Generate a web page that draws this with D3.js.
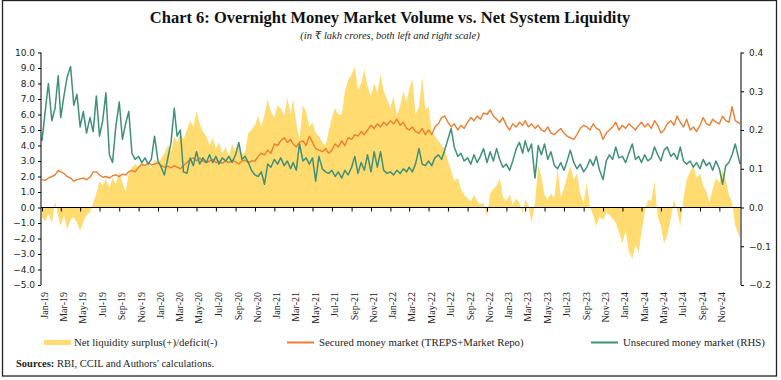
<!DOCTYPE html>
<html><head><meta charset="utf-8">
<script src="https://cdn.jsdelivr.net/npm/d3@7"></script>
<style>body{margin:0;background:#fff}svg{display:block}</style>
</head><body><svg id="c" width="781" height="380"></svg>
<script>
const tickLabels = ["Jan-19","Mar-19","May-19","Jul-19","Sep-19","Nov-19","Jan-20","Mar-20","May-20","Jul-20","Sep-20","Nov-20",
"Jan-21","Mar-21","May-21","Jul-21","Sep-21","Nov-21","Jan-22","Mar-22","May-22","Jul-22","Sep-22","Nov-22",
"Jan-23","Mar-23","May-23","Jul-23","Sep-23","Nov-23","Jan-24","Mar-24","May-24","Jul-24","Sep-24","Nov-24"];
const leftTicks = [10,9,8,7,6,5,4,3,2,1,0,-1,-2,-3,-4,-5];
const rightTicks = [0.4,0.3,0.2,0.1,0.0,-0.1,-0.2];

// Net liquidity surplus(+)/deficit(-), 3 readings per month (1st, 11th, 21st) + early Jan-25
const liquidity = [
-0.6,-0.9,-0.4, -1.0,0.4,-0.6, -1.2,-0.5,-1.4, -0.8,-0.6,-1.0, -1.5,-0.9,-0.5, -0.3,0.3,0.9,
1.7,1.4,1.8, 1.3,1.9,1.5, 2.3,1.6,1.0, 2.2,2.6,2.8, 2.5,3.0,2.6, 2.9,2.5,3.1,
2.8,3.2,3.5, 4.0,3.6,4.6, 4.2,4.8,4.4, 5.0,5.6,5.2, 6.2,5.4,4.9, 4.6,4.0,4.5,
3.8,4.2,3.5, 3.9,3.3,4.1, 3.6,4.2,3.4, 3.6,4.8,5.0, 5.3,5.9,5.2, 6.0,7.0,6.2,
5.8,6.6,6.4, 5.9,7.1,6.0, 7.0,5.4,4.4, 6.6,6.2,5.2, 5.5,4.8,4.6, 4.2,4.0,4.9,
5.8,6.4,6.0, 6.0,7.5,8.2, 8.6,9.1,7.6, 8.0,8.9,7.8, 7.2,8.0,7.4, 8.6,7.5,7.0,
6.4,7.2,5.9, 6.6,7.5,6.8, 7.6,8.3,6.0, 6.5,8.4,6.3, 6.5,4.9,4.6, 4.3,4.0,3.8,
3.0,2.4,1.7, 1.9,1.2,0.8, 0.6,0.4,0.8, 0.4,0.2,0.3, -0.6,0.9,1.2, 1.4,1.9,0.7,
0.4,0.8,0.2, 0.6,0.3,-0.4, 0.5,0.2,-1.0, 0.3,2.7,2.0, 0.8,0.5,0.9, 0.6,2.5,0.7,
1.2,2.0,2.7, 1.8,2.2,0.9, 0.3,1.6,0.0, -0.5,-1.2,-0.6, -0.8,-0.3,-0.5, -0.7,-1.0,-1.6,
-2.3,-1.5,-2.8, -3.3,-2.4,-2.9, -1.6,-0.3,0.5, 0.4,1.7,-0.6, -1.2,-2.3,-1.8, -0.7,0.5,-0.2,
-1.2,0.6,1.8, 2.3,2.7,1.9, 2.2,1.4,1.0, 0.3,1.2,1.9, 1.6,2.4,1.8, 0.8,0.3,-1.2,
-2.0];

// Secured money market (TREPS+Market Repo), left scale
const secured = [
1.8,1.75,1.9, 2.0,2.1,2.4, 2.3,2.2,2.0, 1.9,1.7,1.8, 1.85,1.9,1.8, 1.95,2.3,2.3,
2.1,1.95,2.0, 1.9,2.05,2.1, 2.0,2.15,2.1, 2.3,2.4,2.3, 2.6,2.8,2.7, 2.9,2.75,2.8,
2.9,2.7,2.6, 2.65,2.55,2.7, 2.6,2.5,2.7, 2.9,3.1,3.2, 3.0,3.2,3.0, 2.9,3.0,3.1,
2.9,3.0,2.85, 3.0,2.9,3.05, 2.95,2.8,3.0, 3.05,2.9,3.0, 3.0,3.3,3.5, 3.4,3.7,3.5,
4.1,4.0,4.3, 4.5,4.2,4.4, 4.1,3.9,4.2, 4.3,4.0,4.6, 4.2,3.8,3.7, 3.6,3.8,3.5,
3.7,4.1,3.9, 4.3,4.0,4.5, 4.4,4.7,4.6, 4.9,4.7,5.0, 5.3,5.1,5.4, 5.2,5.5,5.3,
5.6,5.4,5.7, 5.3,5.5,5.1, 5.0,5.2,4.9, 4.8,5.1,4.7, 5.0,4.7,5.2, 5.4,5.8,5.9,
5.5,5.2,5.4, 5.0,5.3,5.1, 5.5,5.8,5.6, 5.9,5.7,6.1, 6.0,6.3,5.9, 5.7,5.5,5.8,
5.3,5.0,5.4, 5.2,5.5,5.3, 5.6,5.2,5.4, 5.1,5.3,5.0, 4.9,5.2,4.8, 4.7,4.9,5.1,
4.8,4.6,4.5, 4.4,4.7,5.1, 5.3,5.2,5.0, 5.4,5.1,5.0, 4.4,4.8,5.0, 5.2,5.5,5.0,
5.3,5.1,5.4, 5.2,5.0,5.3, 5.5,5.2,5.4, 5.1,5.6,5.3, 4.8,5.0,5.4, 5.6,5.3,5.9,
5.5,5.2,5.7, 5.0,5.2,4.9, 5.3,5.8,5.4, 5.3,5.7,5.5, 5.4,5.9,5.6, 5.5,6.5,5.6,
5.4];

// Unsecured money market, right scale
const unsecured = [
.172,.248,.32, .224,.256,.34, .232,.288,.336, .364,.264,.292, .208,.248,.192, .232,.196,.288,
.184,.224,.296, .136,.116,.208, .272,.176,.216, .248,.14,.124, .132,.116,.128, .112,.124,.184,
.12,.104,.084, .128,.168,.256, .184,.2,.092, .088,.128,.108, .144,.112,.128, .116,.136,.116,
.132,.112,.128, .12,.132,.116, .136,.168,.124, .132,.116,.096, .084,.08,.092, .06,.112,.104,
.124,.112,.128, .108,.12,.1, .116,.096,.164, .12,.128,.112, .128,.068,.132, .1,.092,.088,
.096,.08,.092, .076,.096,.084, .104,.132,.088, .116,.096,.136, .092,.144,.104, .144,.096,.088,
.092,.084,.096, .088,.1,.092, .104,.092,.112, .152,.112,.108, .12,.108,.128, .136,.124,.148,
.176,.204,.156, .132,.14,.12, .128,.112,.136, .116,.132,.152, .116,.144,.12, .152,.124,.104,
.112,.096,.12, .152,.168,.14, .172,.144,.164, .076,.16,.136, .164,.124,.144, .108,.1,.116,
.096,.12,.148, .116,.1,.112, .092,.104,.124, .108,.132,.096, .072,.12,.136, .124,.156,.128,
.132,.116,.14, .164,.124,.132, .116,.136,.12, .128,.156,.136, .12,.148,.156, .132,.14,.124,
.156,.12,.112, .12,.104,.116, .1,.124,.108, .116,.096,.12, .1,.06,.108, .116,.136,.164,
.112];

const dates = [];
for (let m = 0; m < 72; m++) for (const d of [1, 11, 21]) dates.push(new Date(2019, m, d));
dates.push(new Date(2025, 0, 5));

const svg = d3.select("#c");
const serif = "'Liberation Serif','DejaVu Serif',serif";
const sans = "'DejaVu Sans',Verdana,sans-serif";

svg.append("rect").attr("x",2.5).attr("y",0.5).attr("width",774).attr("height",375.5)
  .attr("fill","none").attr("stroke","#222").attr("stroke-width",1.3);

const x = d3.scaleTime().domain([new Date(2019,0,1), new Date(2025,0,8)]).range([42, 741]);
const yL = d3.scaleLinear().domain([-5, 10]).range([285, 52.5]);
const yR = d3.scaleLinear().domain([-0.2, 0.4]).range([285, 52.5]);

// title
svg.append("text").attr("x",390).attr("y",23).attr("text-anchor","middle")
  .attr("font-family",serif).attr("font-weight","bold").attr("font-size",16.5).attr("fill","#111")
  .text("Chart 6: Overnight Money Market Volume vs. Net System Liquidity");
svg.append("text").attr("x",390).attr("y",38.5).attr("text-anchor","middle")
  .attr("font-family",serif).attr("font-style","italic").attr("font-size",10.5).attr("fill","#222")
  .text("(in ₹ lakh crores, both left and right scale)");

// area
const area = d3.area().x((d,i)=>x(dates[i])).y0(yL(0)).y1(d=>yL(d));
svg.append("path").datum(liquidity).attr("d",area).attr("fill","#FFDB70");

const lineS = d3.line().x((d,i)=>x(dates[i])).y(d=>yL(d));
svg.append("path").datum(secured).attr("d",lineS).attr("fill","none")
  .attr("stroke","#ED7D31").attr("stroke-width",1.4).attr("stroke-linejoin","round");
const lineU = d3.line().x((d,i)=>x(dates[i])).y(d=>yR(d));
svg.append("path").datum(unsecured).attr("d",lineU).attr("fill","none")
  .attr("stroke","#3F9077").attr("stroke-width",1.5).attr("stroke-linejoin","round");

// axes
const gL = svg.append("g").attr("transform","translate(41,0)")
  .call(d3.axisLeft(yL).tickValues(leftTicks).tickSize(3).tickPadding(3).tickFormat(d3.format(".1f")));
gL.select(".domain").attr("d","M0,52.5V285");
gL.selectAll("text").attr("font-family",sans).attr("font-size",9).attr("fill","#222");
const gR = svg.append("g").attr("transform","translate(741,0)")
  .call(d3.axisRight(yR).tickValues(rightTicks).tickSize(3).tickPadding(5).tickFormat(d3.format(".1f")));
gR.select(".domain").attr("d","M0,52.5V285");
gR.selectAll("text").attr("font-family",sans).attr("font-size",9).attr("fill","#222");

const parse = d3.timeParse("%b-%y");
const tickDates = tickLabels.map(parse);
const gX = svg.append("g").attr("transform",`translate(0,${yL(0)})`)
  .call(d3.axisBottom(x).tickValues(tickDates).tickSize(4).tickFormat(""));
gX.select(".domain").attr("d","M41,0H741");

svg.append("g").selectAll("text").data(tickLabels).join("text")
  .attr("transform",(d,i)=>`translate(${x(tickDates[i])+2.5},292) rotate(-90)`)
  .attr("text-anchor","end").attr("dy","0.35em")
  .attr("font-family",serif).attr("font-size",10).attr("fill","#222").text(d=>d);

// legend
const lg = svg.append("g").attr("font-family",serif).attr("font-size",10.8).attr("fill","#222");
lg.append("rect").attr("x",44).attr("y",340).attr("width",27).attr("height",5).attr("fill","#FFDB70");
lg.append("text").attr("x",74).attr("y",346).text("Net liquidity surplus(+)/deficit(-)");
lg.append("line").attr("x1",287).attr("x2",314).attr("y1",342.5).attr("y2",342.5)
  .attr("stroke","#ED7D31").attr("stroke-width",2);
lg.append("text").attr("x",319).attr("y",346).text("Secured money market (TREPS+Market Repo)");
lg.append("line").attr("x1",591).attr("x2",618).attr("y1",342.5).attr("y2",342.5)
  .attr("stroke","#3F9077").attr("stroke-width",2);
lg.append("text").attr("x",623).attr("y",346).text("Unsecured money market (RHS)");

const src = svg.append("text").attr("x",16).attr("y",367).attr("font-family",serif)
  .attr("font-size",10.5).attr("fill","#222");
src.append("tspan").attr("font-weight","bold").text("Sources:");
src.append("tspan").text(" RBI, CCIL and Authors' calculations.");
</script></body></html>
